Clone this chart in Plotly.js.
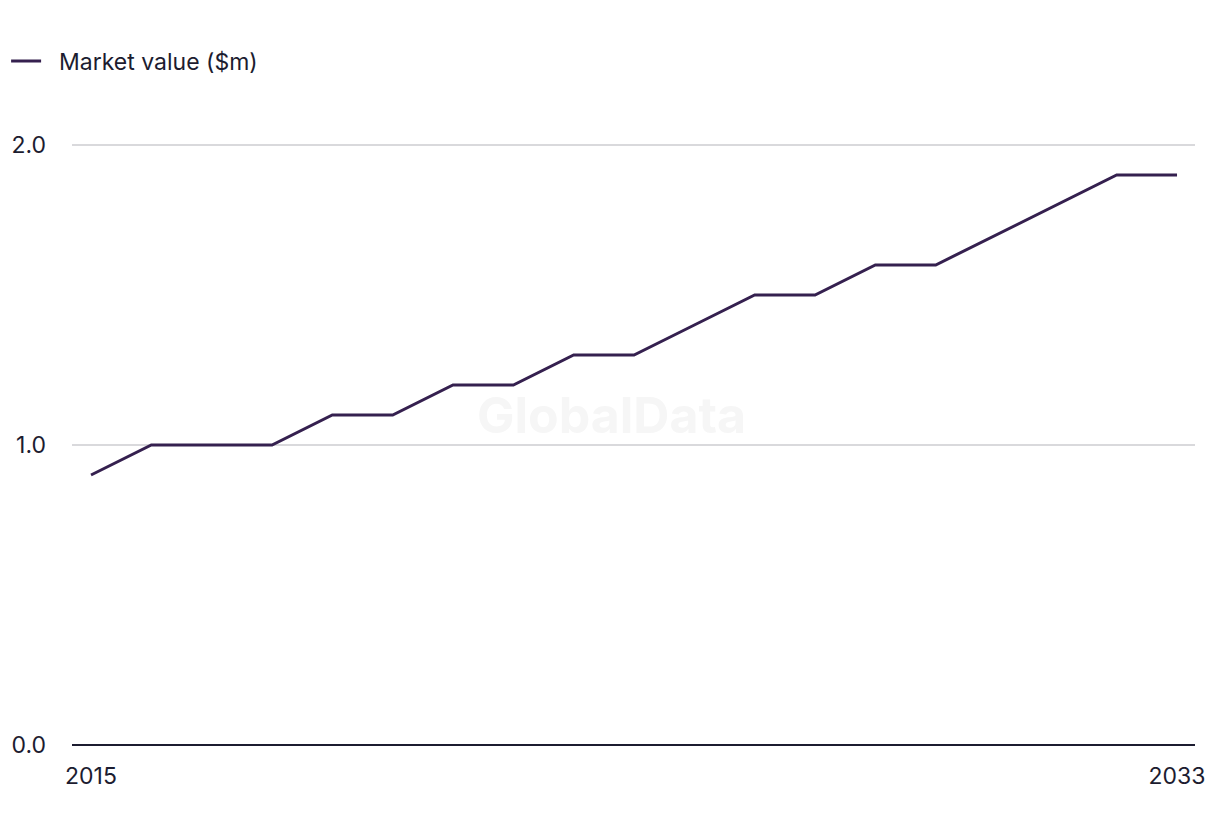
<!DOCTYPE html>
<html>
<head>
<meta charset="utf-8">
<script src="https://cdn.plot.ly/plotly-3.0.1.min.js"></script>
<style>html,body{margin:0;padding:0;background:#fff;}#chart{width:1220px;height:836px;}</style>
</head>
<body>
<div id="chart"></div>
<script>
const years = [2015,2016,2017,2018,2019,2020,2021,2022,2023,2024,2025,2026,2027,2028,2029,2030,2031,2032,2033];
const marketValue = [0.9,1.0,1.0,1.0,1.1,1.1,1.2,1.2,1.3,1.3,1.4,1.5,1.5,1.6,1.6,1.7,1.8,1.9,1.9];
const seriesName = 'Market value ($m)';
const xTickVals = [2015, 2033];
const yTickVals = [0, 1, 2];
const yTickText = ['0.0', '1.0', '2.0'];

const font = 'Inter, Liberation Sans, Arial, sans-serif';
const textColor = '#1c1c30';
const fontSize = 23;

Plotly.newPlot('chart', [{
  x: years,
  y: marketValue,
  type: 'scatter',
  mode: 'lines',
  name: '\u00a0\u00a0' + seriesName,
  line: {color: '#35204f', width: 3}
}], {
  width: 1220,
  height: 836,
  paper_bgcolor: '#fff',
  plot_bgcolor: '#fff',
  margin: {l: 72, r: 25, t: 139, b: 91},
  font: {family: font, size: fontSize, color: textColor},
  showlegend: true,
  legend: {
    orientation: 'h',
    xref: 'container', yref: 'container',
    x: 0.005, xanchor: 'left', y: 0.927, yanchor: 'middle',
    font: {family: font, size: fontSize, color: textColor},
    itemwidth: 30
  },
  xaxis: {
    range: [2014.685, 2033.298],
    tickvals: xTickVals,
    ticktext: xTickVals.map(String),
    showgrid: false,
    zeroline: false,
    showline: false,
    ticks: '',
    automargin: false,
    ticklabelstandoff: 15,
    tickfont: {family: font, size: fontSize, color: textColor}
  },
  yaxis: {
    range: [0, 2.02],
    tickvals: yTickVals,
    ticktext: yTickText,
    showgrid: true,
    gridcolor: '#d9d9dc',
    gridwidth: 1.5,
    zeroline: true,
    zerolinecolor: '#1c1c30',
    zerolinewidth: 2,
    showline: false,
    ticks: '',
    automargin: false,
    ticklabelstandoff: 25,
    tickfont: {family: font, size: fontSize, color: textColor}
  },
  annotations: [{
    text: '<b>GlobalData</b>',
    xref: 'paper', yref: 'paper', x: 0.48, y: 0.545,
    showarrow: false,
    font: {family: font, size: 50, color: '#f6f6f6'}
  }]
}, {displayModeBar: false, staticPlot: true});
</script>
</body>
</html>
